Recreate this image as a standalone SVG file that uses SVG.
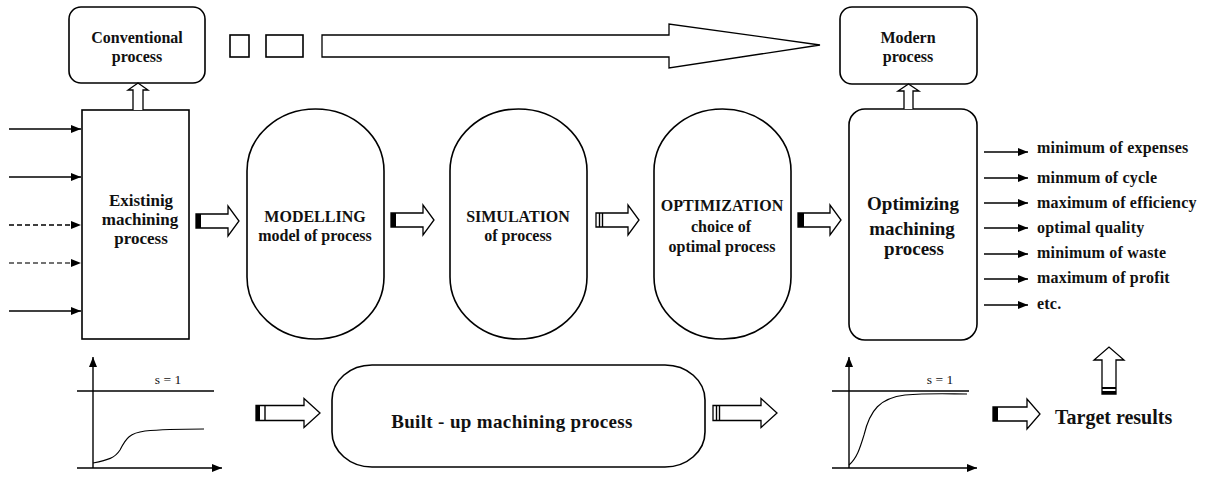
<svg xmlns="http://www.w3.org/2000/svg" width="1210" height="477" viewBox="0 0 1210 477">
<style>
  .box { fill: #fff; stroke: #000; stroke-width: 1.6; }
  .ln { fill: none; stroke: #000; stroke-width: 1.4; }
  .t { font-family: "Liberation Serif", "Times New Roman", serif; font-weight: bold; fill: #111; text-anchor: middle; }
  .t16 { font-size: 16px; }
  .t17 { font-size: 17px; }
  .t19 { font-size: 19px; }
  .out { font-family: "Liberation Serif", "Times New Roman", serif; font-weight: bold; font-size: 16px; fill: #111; letter-spacing: 0.2px; }
  .small { font-family: "Liberation Serif", "Times New Roman", serif; font-size: 13.5px; fill: #111; text-anchor: middle; }
  .hollow { fill: #fff; stroke: #000; stroke-width: 1.3; stroke-linejoin: miter; }
  .tail { fill: #000; }
</style>
<defs>
  <marker id="ah" viewBox="0 0 10 8" markerUnits="userSpaceOnUse" markerWidth="10" markerHeight="8" refX="10" refY="4" orient="auto">
    <path d="M0,0 L10,4 L0,8 Z" fill="#000"/>
  </marker>
  <path id="arrS" d="M0,-7 H32 V-15 L43,0 L32,15 V7 H0 Z"/>
  <path id="arrL" d="M0,-7.5 H48 V-14.5 L64,0 L48,14.5 V7.5 H0 Z"/>
  <path id="arrM" d="M0,-7 H34 V-15 L47,0 L34,15 V7 H0 Z"/>
</defs>

<!-- Top nodes -->
<g id="conventional">
  <rect class="box" x="69" y="7" width="136" height="76" rx="12"/>
  <text class="t t16" x="137" y="43">Conventional</text>
  <text class="t t16" x="137" y="62">process</text>
</g>
<g id="modern">
  <rect class="box" x="840" y="7" width="137" height="77" rx="12"/>
  <text class="t t16" x="908" y="43">Modern</text>
  <text class="t t16" x="908" y="62">process</text>
</g>

<!-- Main process nodes -->
<g id="existing">
  <rect class="box" x="82" y="110" width="107" height="229"/>
  <text class="t t17" x="141" y="206">Existinig</text>
  <text class="t t17" x="140" y="225">machining</text>
  <text class="t t17" x="141" y="244">process</text>
</g>
<g id="modelling">
  <rect class="box" x="247" y="109" width="137" height="230" rx="68.5" ry="62"/>
  <text class="t t16" x="315" y="222">MODELLING</text>
  <text class="t t16" x="315" y="241">model of process</text>
</g>
<g id="simulation">
  <rect class="box" x="450" y="109" width="137" height="230" rx="68.5" ry="62"/>
  <text class="t t16" x="518" y="222">SIMULATION</text>
  <text class="t t16" x="518" y="241">of process</text>
</g>
<g id="optimization">
  <rect class="box" x="654" y="109" width="137" height="230" rx="68.5" ry="62"/>
  <text class="t t16" x="722" y="211">OPTIMIZATION</text>
  <text class="t t16" x="721" y="232">choice of</text>
  <text class="t t16" x="722" y="252">optimal process</text>
</g>
<g id="optimizing">
  <rect class="box" x="849" y="109" width="128" height="231" rx="16"/>
  <text class="t t19" x="913" y="210">Optimizing</text>
  <text class="t t19" x="912" y="235">machining</text>
  <text class="t t19" x="914" y="255">process</text>
</g>

<!-- Bottom row -->
<g id="builtup">
  <rect class="box" x="332" y="365" width="373" height="102" rx="40" ry="35"/>
  <text class="t" style="font-size:19px; letter-spacing:0.35px" x="512" y="428">Built - up machining process</text>
</g>
<g id="graph-left">
  <line class="ln" x1="93" y1="468" x2="93" y2="357" marker-end="url(#ah)"/>
  <line class="ln" x1="77" y1="468" x2="222" y2="468" marker-end="url(#ah)"/>
  <line class="ln" x1="77" y1="391" x2="214" y2="391"/>
  <text class="small" x="168" y="384">s = 1</text>
  <path class="ln" style="stroke-width:1.1" d="M93,463 C108,460 115,458 120,450 C126,438 130,433 145,431 C165,429 185,429 204,429"/>
</g>
<g id="graph-right">
  <line class="ln" x1="849" y1="468" x2="849" y2="357" marker-end="url(#ah)"/>
  <line class="ln" x1="832" y1="468" x2="977" y2="468" marker-end="url(#ah)"/>
  <line class="ln" x1="832" y1="391" x2="969" y2="391"/>
  <text class="small" x="940" y="384">s = 1</text>
  <path class="ln" style="stroke-width:1.1" d="M849,465 C857,458 860,448 864,435 C870,410 880,398 905,395 C930,393 950,394 967,394"/>
</g>
<g id="target">
  <text class="t" style="font-size:20px; text-anchor:start" x="1055" y="424">Target results</text>
</g>

<!-- Outputs -->
<g id="outputs">
  <text class="out" x="1037" y="153">minimum of expenses</text>
  <text class="out" x="1037" y="183">minmum of cycle</text>
  <text class="out" x="1037" y="208">maximum of efficiency</text>
  <text class="out" x="1037" y="233">optimal quality</text>
  <text class="out" x="1037" y="258">minimum of waste</text>
  <text class="out" x="1037" y="283">maximum of profit</text>
  <text class="out" x="1037" y="309">etc.</text>
</g>

<!-- Connectors -->
<g id="connectors">
  <!-- top: small squares and big transition arrow -->
  <rect class="box" x="230" y="35" width="19" height="22"/>
  <rect class="box" x="266" y="35" width="37" height="22"/>
  <path class="hollow" d="M322,35 H669 V24 L820,45 L669,68 V57 H322 Z"/>

  <!-- double-line up arrows -->
  <path class="hollow" d="M133,110 V90 H128 L138,83 L148,90 H143 V110"/>
  <path class="hollow" d="M904,109 V91 H898 L908.5,84 L919,91 H913 V109"/>

  <!-- input arrows -->
  <line class="ln" x1="9" y1="129" x2="81" y2="129" marker-end="url(#ah)"/>
  <line class="ln" x1="9" y1="177" x2="81" y2="177" marker-end="url(#ah)"/>
  <line class="ln" x1="9" y1="225" x2="81" y2="225" stroke-dasharray="5,3" marker-end="url(#ah)"/>
  <line class="ln" x1="9" y1="263" x2="81" y2="263" stroke-dasharray="5,3" style="stroke:#444" marker-end="url(#ah)"/>
  <line class="ln" x1="9" y1="311" x2="81" y2="311" marker-end="url(#ah)"/>

  <!-- output arrows -->
  <line class="ln" x1="984" y1="152" x2="1028" y2="152" marker-end="url(#ah)"/>
  <line class="ln" x1="984" y1="178" x2="1028" y2="178" marker-end="url(#ah)"/>
  <line class="ln" x1="984" y1="203" x2="1028" y2="203" marker-end="url(#ah)"/>
  <line class="ln" x1="984" y1="228" x2="1028" y2="228" marker-end="url(#ah)"/>
  <line class="ln" x1="984" y1="254" x2="1028" y2="254" marker-end="url(#ah)"/>
  <line class="ln" x1="984" y1="279" x2="1028" y2="279" marker-end="url(#ah)"/>
  <line class="ln" x1="984" y1="305" x2="1028" y2="305" marker-end="url(#ah)"/>

  <!-- hollow flow arrows, main row -->
  <g transform="translate(196,221)">
    <use href="#arrS" class="hollow"/>
    <rect class="tail" x="0" y="-7" width="5" height="14"/>
  </g>
  <g transform="translate(391,220)">
    <use href="#arrS" class="hollow"/>
    <rect class="tail" x="0" y="-7" width="5" height="14"/>
  </g>
  <g transform="translate(596,220)">
    <use href="#arrS" class="hollow"/>
    <line class="ln" x1="3.5" y1="-7" x2="3.5" y2="7"/>
    <line class="ln" x1="6.5" y1="-7" x2="6.5" y2="7"/>
  </g>
  <g transform="translate(798,220)">
    <use href="#arrS" class="hollow"/>
    <rect class="tail" x="0" y="-7" width="6" height="14"/>
  </g>

  <!-- hollow flow arrows, bottom row -->
  <g transform="translate(256,413)">
    <use href="#arrL" class="hollow"/>
    <rect class="tail" x="0" y="-7.5" width="4" height="15"/>
    <line class="ln" x1="9" y1="-7.5" x2="9" y2="7.5"/>
  </g>
  <g transform="translate(713,413)">
    <use href="#arrL" class="hollow"/>
    <line class="ln" x1="3.5" y1="-7.5" x2="3.5" y2="7.5"/>
    <line class="ln" x1="6.5" y1="-7.5" x2="6.5" y2="7.5"/>
  </g>
  <g transform="translate(993,414)">
    <use href="#arrM" class="hollow"/>
    <rect class="tail" x="0" y="-7" width="5" height="14"/>
  </g>
  <g transform="translate(1109,394) rotate(-90)">
    <use href="#arrM" class="hollow"/>
    <rect class="tail" x="0" y="-7" width="3" height="14"/>
    <rect class="tail" x="5" y="-7" width="2" height="14"/>
  </g>
</g>
</svg>
